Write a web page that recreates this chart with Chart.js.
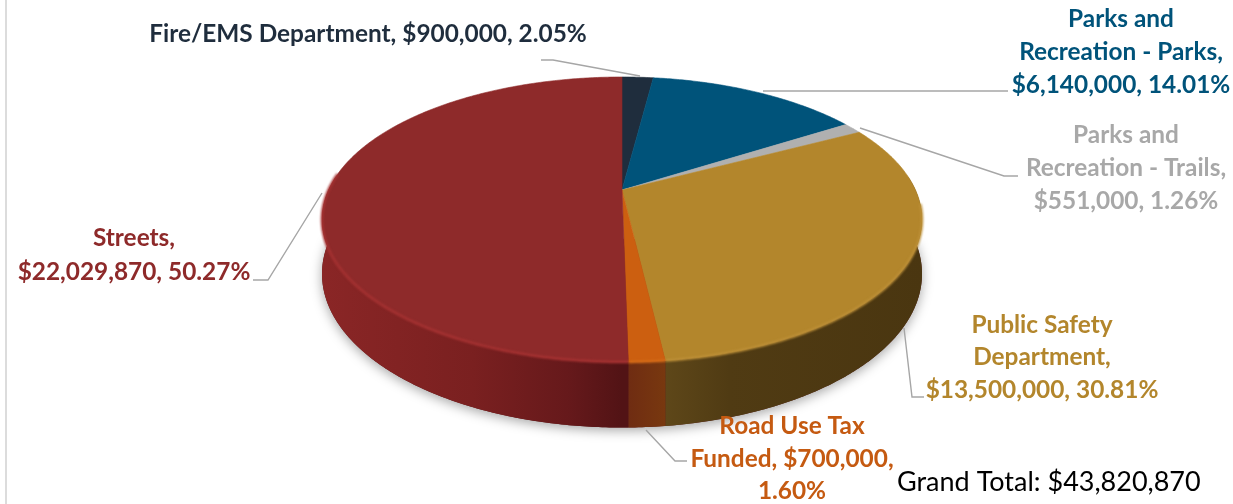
<!DOCTYPE html>
<html>
<head>
<meta charset="utf-8">
<title>Funding by department</title>
<script src="https://cdn.jsdelivr.net/npm/chart.js@4"></script>
<style>
  html, body { margin: 0; padding: 0; background: #fff; overflow: hidden; }
  canvas { display: block; }
</style>
</head>
<body>
<canvas id="pieChart" width="1233" height="504"></canvas>
<script>
// Data
const categories = ["Fire/EMS Department", "Parks and Recreation - Parks", "Parks and Recreation - Trails",
  "Public Safety Department", "Road Use Tax Funded", "Streets"];
const amounts = [900000, 6140000, 551000, 13500000, 700000, 22029870];
const percents = ["2.05%", "14.01%", "1.26%", "30.81%", "1.60%", "50.27%"];
const grandTotal = "Grand Total: $43,820,870";

const sliceColors = ["#1f2d3d", "#00537a", "#b0b0b0", "#b3862c", "#cc5f10", "#8e2a2a"];
const textColors = ["#1f2d3d", "#00537a", "#a8a8a8", "#b3862c", "#c55a11", "#8e2a2a"];
const rimColors = [null, null, null, "#bd9038", "#d56c18", "#a63232"];

// Perspective of the top face: apex at (cx, cy), tilt makes the front bigger
const cx = 622, cy = 190, ax = 293.5, ay = 136.4, tilt = 0.207, depth = 52;

function rim(angle, extrude) {
  const w = 1 - tilt * Math.sin(angle);
  return {
    x: cx + ax * Math.cos(angle) / w,
    y: cy + ay * Math.sin(angle) / w + (extrude ? depth / w : 0)
  };
}

function traceArc(ctx, a0, a1, extrude, move) {
  const steps = Math.max(2, Math.ceil(Math.abs(a1 - a0) / 0.01));
  for (let i = 0; i <= steps; i++) {
    const p = rim(a0 + (a1 - a0) * i / steps, extrude);
    if (i === 0 && move) ctx.moveTo(p.x, p.y); else ctx.lineTo(p.x, p.y);
  }
}

function sideGradient(ctx) {
  const g = ctx.createLinearGradient(322, 0, 922, 0);
  g.addColorStop(0, "#8a2626");
  g.addColorStop(0.25, "#7a2020");
  g.addColorStop(0.41, "#66191b");
  g.addColorStop(0.5, "#521315");
  return g;
}

// Draws the extruded pie from the arc elements Chart.js laid out
const pie3d = {
  id: "pie3d",
  beforeDatasetsDraw(chart) {
    const ctx = chart.ctx;
    const arcs = chart.getDatasetMeta(0).data;
    ctx.save();

    // soft shadow under the body
    ctx.save();
    ctx.shadowColor = "rgba(0,0,0,0.35)";
    ctx.shadowBlur = 12;
    ctx.shadowOffsetY = 3;
    ctx.fillStyle = "#5a1a1a";
    ctx.beginPath();
    traceArc(ctx, -0.02, Math.PI + 0.02, true, true);
    ctx.closePath();
    ctx.fill();
    ctx.restore();

    // side walls
    const red = sideGradient(ctx);
    const sideFills = ["#222", "#023", "#555", null, null, red];
    const gold = ctx.createLinearGradient(665, 0, 922, 0);
    gold.addColorStop(0, "#5e4719");
    gold.addColorStop(0.25, "#503b13");
    gold.addColorStop(1, "#4a3610");
    sideFills[3] = gold;
    const orange = ctx.createLinearGradient(628, 0, 665, 0);
    orange.addColorStop(0, "#6f2c12");
    orange.addColorStop(1, "#78380f");
    sideFills[4] = orange;

    arcs.forEach((arc, i) => {
      const a0 = Math.max(arc.startAngle, -0.1);
      const a1 = Math.min(arc.endAngle, Math.PI + 0.1);
      if (a1 <= a0) return;
      ctx.fillStyle = sideFills[i];
      ctx.beginPath();
      traceArc(ctx, a0, a1, false, true);
      traceArc(ctx, a1, a0, true, false);
      ctx.closePath();
      ctx.fill();
    });

    // top faces
    arcs.forEach((arc, i) => {
      ctx.fillStyle = sliceColors[i];
      ctx.strokeStyle = sliceColors[i];
      ctx.lineWidth = 0.6;
      ctx.beginPath();
      ctx.moveTo(cx, cy);
      traceArc(ctx, arc.startAngle, arc.endAngle, false, false);
      ctx.closePath();
      ctx.fill();
      ctx.stroke();
    });

    // bevel highlight along the front edge
    ctx.save();
    ctx.filter = "blur(1.2px)";
    ctx.lineWidth = 2.5;
    arcs.forEach((arc, i) => {
      if (!rimColors[i]) return;
      const a0 = Math.max(arc.startAngle, 0.1);
      const a1 = Math.min(arc.endAngle, Math.PI + 0.12);
      if (a1 <= a0) return;
      ctx.strokeStyle = rimColors[i];
      ctx.beginPath();
      traceArc(ctx, a0, a1, false, true);
      ctx.stroke();
    });
    ctx.restore();

    ctx.restore();
    return false;
  },
  afterDraw(chart) {
    const ctx = chart.ctx;
    ctx.save();

    // page edge
    ctx.fillStyle = "#dcdcdc";
    ctx.fillRect(5, 0, 2, 504);

    // leader lines
    const leaders = [
      [[541, 60], [553, 60], [640, 76]],
      [[763, 91], [1008, 91]],
      [[860, 128], [1004, 176], [1018, 176]],
      [[904, 328], [912, 397], [924, 397]],
      [[646, 430], [675, 461], [687, 461]],
      [[322, 193], [268, 280], [253, 280]]
    ];
    ctx.strokeStyle = "#a6a6a6";
    ctx.lineWidth = 1.4;
    leaders.forEach(pts => {
      ctx.beginPath();
      pts.forEach((p, i) => i ? ctx.lineTo(p[0], p[1]) : ctx.moveTo(p[0], p[1]));
      ctx.stroke();
    });

    // data labels
    const money = v => "$" + v.toLocaleString("en-US");
    const labels = [
      { x: 368, ys: [34], lines: [categories[0] + ", " + money(amounts[0]) + ", " + percents[0]] },
      { x: 1121, ys: [19, 52, 85], lines: ["Parks and", "Recreation - Parks,", money(amounts[1]) + ", " + percents[1]] },
      { x: 1126, ys: [135, 168, 201], lines: ["Parks and", "Recreation - Trails,", money(amounts[2]) + ", " + percents[2]] },
      { x: 1042, ys: [325, 357, 390], lines: ["Public Safety", "Department,", money(amounts[3]) + ", " + percents[3]] },
      { x: 792, ys: [426, 459, 491], lines: ["Road Use Tax", "Funded, " + money(amounts[4]) + ",", percents[4]] },
      { x: 134, ys: [238, 272], lines: ["Streets,", money(amounts[5]) + ", " + percents[5]] }
    ];
    ctx.font = "bold 24.4px Lato";
    ctx.textAlign = "center";
    ctx.textBaseline = "middle";
    labels.forEach((l, i) => {
      ctx.fillStyle = textColors[i];
      l.lines.forEach((t, j) => ctx.fillText(t, l.x, l.ys[j]));
    });

    ctx.fillStyle = "#000";
    ctx.font = "27px Lato";
    ctx.textAlign = "left";
    ctx.fillText(grandTotal, 897, 482);
    ctx.restore();
  }
};

new Chart(document.getElementById("pieChart"), {
  type: "pie",
  data: {
    labels: categories,
    datasets: [{ data: amounts, backgroundColor: sliceColors, borderWidth: 0 }]
  },
  options: {
    responsive: false,
    animation: false,
    plugins: { legend: { display: false }, tooltip: { enabled: false } }
  },
  plugins: [pie3d]
});
</script>
</body>
</html>
